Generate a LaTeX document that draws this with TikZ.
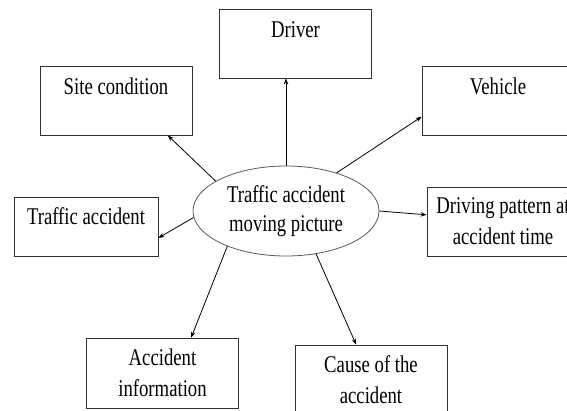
\documentclass[tikz,border=0pt]{standalone}
\usepackage{fontspec}
\setmainfont{Liberation Serif}[FakeStretch=0.78]
\usetikzlibrary{arrows.meta,shapes.geometric}

\begin{document}
\begin{tikzpicture}[x=1pt,y=-1pt,>={Stealth[length=6pt,width=4.5pt]},line width=0.8pt,
 box/.style={draw=black!80,minimum width=152pt,minimum height=69pt,inner sep=0pt,
  align=center,font=\fontsize{24}{31}\selectfont},
 topbox/.style={box,text height=28pt,text depth=41pt},
 ell/.style={draw=black!65,ellipse,minimum width=186pt,minimum height=90pt,inner sep=0pt,
  align=center,font=\fontsize{24}{29}\selectfont}]
\useasboundingbox (0,0) rectangle (567,410);
\node[ell] (tam) at (286,211) {Traffic accident\\moving picture};
\node[topbox] (drv) at (295.5,43.5) {Driver};
\node[topbox] (site) at (116,100.5) {Site condition};
\node[topbox] (veh) at (498,100.5) {Vehicle};
\node[topbox,minimum width=144pt,minimum height=59pt,text height=27pt,text depth=32pt] (trf) at (86,226.5) {Traffic accident};
\node[box] (drvp) at (503,221.5) {Driving pattern at\\accident time};
\node[box,minimum height=70pt] (info) at (162.5,373) {Accident\\information};
\node[box] (cause) at (371,379.5) {Cause of the\\accident};
\draw[->] (tam.north) -- (tam.north |- drv.south);
\draw[->] (tam.157.7) -- (site.-34.6);
\draw[->] (tam.37.4) -- (veh.-168.5);
\draw[->] (tam.184) -- (trf.-9.1);
\draw[->] (tam.east) -- (drvp.175.9);
\draw[->] (tam.-149.2) -- (info.51.8);
\draw[->] (tam.-55.4) -- (cause.113.5);
\end{tikzpicture}
\end{document}
